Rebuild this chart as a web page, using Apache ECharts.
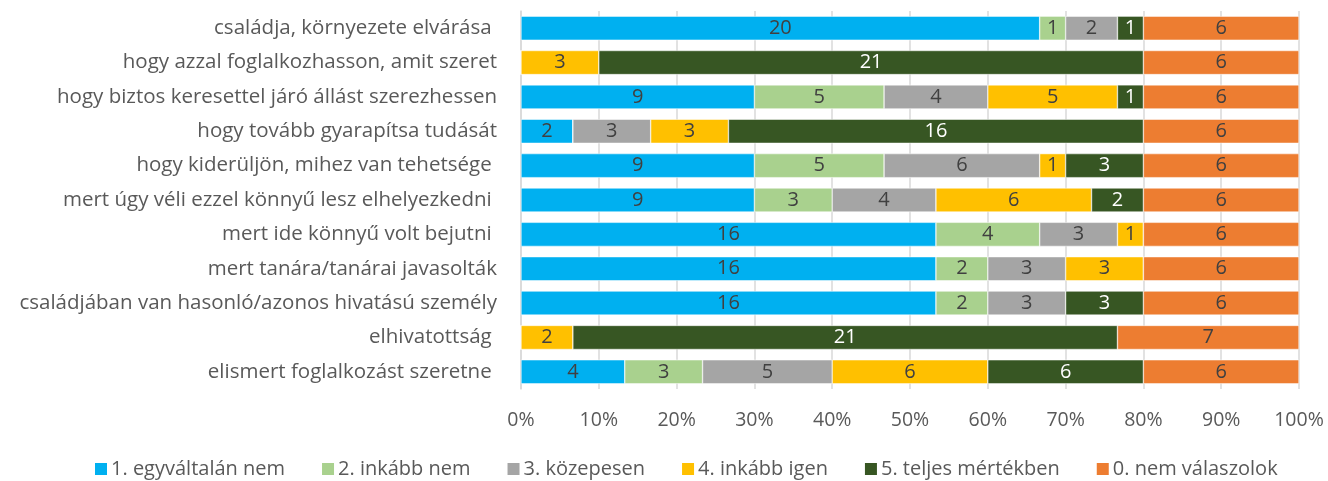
<!DOCTYPE html>
<html>
<head>
<meta charset="utf-8">
<script src="https://cdn.jsdelivr.net/npm/echarts@6/dist/echarts.min.js"></script>
<style>
  html, body { margin: 0; padding: 0; background: #fff; }
  #chart { width: 1328px; height: 481px; }
</style>
</head>
<body>
<div id="chart"></div>
<script>
    // kategóriák fentről lefelé
    var categories = [
        'családja, környezete elvárása ',
        'hogy azzal foglalkozhasson, amit szeret',
        'hogy biztos keresettel járó állást szerezhessen',
        'hogy tovább gyarapítsa tudását',
        'hogy kiderüljön, mihez van tehetsége ',
        'mert úgy véli ezzel könnyű lesz elhelyezkedni ',
        'mert ide könnyű volt bejutni ',
        'mert tanára/tanárai javasolták',
        'családjában van hasonló/azonos hivatású személy',
        'elhivatottság ',
        'elismert foglalkozást szeretne '
    ];
    var seriesNames = ['1. egyváltalán nem', '2. inkább nem', '3. közepesen',
        '4. inkább igen', '5. teljes mértékben', '0. nem válaszolok'];
    var colors = ['#00B0F0', '#A9D18E', '#A5A5A5', '#FFC000', '#375623', '#ED7D31'];

    var egyaltalanNem = [20, 0, 9, 2, 9, 9, 16, 16, 16, 0, 4];
    var inkabbNem     = [1, 0, 5, 0, 5, 3, 4, 2, 2, 0, 3];
    var kozepesen     = [2, 0, 4, 3, 6, 4, 3, 3, 3, 0, 5];
    var inkabbIgen    = [0, 3, 5, 3, 1, 6, 1, 3, 0, 2, 6];
    var teljesen      = [1, 21, 1, 16, 3, 2, 0, 0, 3, 21, 6];
    var nemValaszol   = [6, 6, 6, 6, 6, 6, 6, 6, 6, 7, 6];

    var tickLabels = ['0%', '10%', '20%', '30%', '40%', '50%', '60%', '70%', '80%', '90%', '100%'];

    var values = [egyaltalanNem, inkabbNem, kozepesen, inkabbIgen, teljesen, nemValaszol];
    var FONT = 'Open Sans';

    // sorösszegek a 100%-os halmozáshoz
    var totals = categories.map(function (c, i) {
        return values.reduce(function (s, arr) { return s + arr[i]; }, 0);
    });

    var series = values.map(function (arr, k) {
        return {
            name: seriesNames[k],
            type: 'bar',
            stack: 'total',
            barCategoryGap: '30%',
            itemStyle: { color: colors[k], borderColor: '#fff', borderWidth: 0.5 },
            label: {
                show: true,
                position: 'inside',
                fontFamily: FONT,
                fontSize: 20,
                color: k === 4 ? '#fff' : '#404040',
                formatter: function (p) { return p.data.raw ? p.data.raw : ''; }
            },
            emphasis: { disabled: true },
            data: arr.map(function (v, i) {
                return { value: v / totals[i] * 100, raw: v };
            })
        };
    });

    var chart = echarts.init(document.getElementById('chart'));
    chart.setOption({
        animation: false,
        color: colors,
        grid: { left: 521, right: 29, top: 11, bottom: 92 },
        legend: {
            bottom: -3,
            left: 88,
            itemWidth: 14,
            itemHeight: 14,
            itemGap: 35,
            icon: 'rect',
            textStyle: { fontFamily: FONT, fontSize: 20, color: '#595959', padding: [0, 0, 0, -2] },
            data: seriesNames
        },
        xAxis: {
            type: 'value',
            min: 0,
            max: 100,
            interval: 10,
            axisLine: { show: false },
            axisTick: { show: false },
            splitLine: { lineStyle: { color: '#D9D9D9', width: 1.5 } },
            axisLabel: {
                fontFamily: FONT,
                fontSize: 19.5,
                color: '#595959',
                margin: 21,
                formatter: function (v) { return tickLabels[Math.round(v / 10)]; }
            }
        },
        yAxis: {
            type: 'category',
            inverse: true,
            data: categories,
            axisLine: { show: true, lineStyle: { color: '#D9D9D9', width: 1.5 } },
            axisTick: { show: false },
            axisLabel: { fontFamily: FONT, fontSize: 20.5, color: '#595959', margin: 24 }
        },
        series: series
    });
</script>
</body>
</html>
